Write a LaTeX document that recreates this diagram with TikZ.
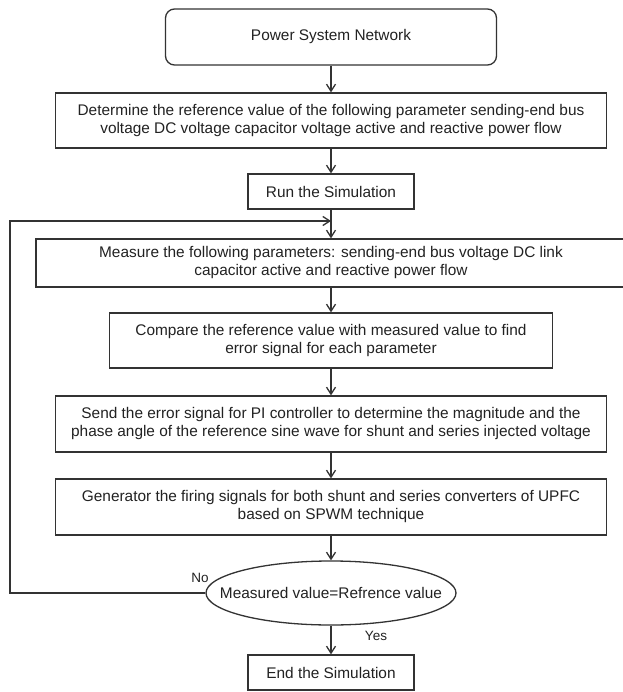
\documentclass[tikz,border=0pt]{standalone}
\usepackage{fontspec}
\setmainfont{Liberation Sans}
\usetikzlibrary{shapes.geometric, arrows.meta, positioning}
\definecolor{flowline}{HTML}{333333}
\definecolor{flowtext}{HTML}{222222}
\newcommand{\flowfont}{\fontsize{15.4}{18}\selectfont}
\newcommand{\labfont}{\fontsize{13.5}{15}\selectfont}
\tikzset{
  startbox/.style={rectangle, draw=flowline, fill=white, line width=1.3pt,
                   rounded corners=9pt, minimum width=331pt, minimum height=56pt,
                   align=center, font=\flowfont, text=flowtext, inner sep=0pt},
  stepbox/.style={rectangle, draw=flowline, fill=white, line width=1.3pt,
                  minimum height=55pt, align=center, font=\flowfont,
                  text=flowtext, inner sep=0pt},
  decision/.style={ellipse, draw=flowline, fill=white, line width=1.3pt,
                   minimum width=250pt, minimum height=64pt, inner xsep=-25pt,
                   inner ysep=0pt, font=\flowfont, text=flowtext},
  flow/.style={->, line width=1.3pt, draw=flowline,
               >={Straight Barb[length=7pt,width=9pt]}},
  answer/.style={font=\labfont, text=flowtext, inner sep=0pt},
}
\begin{document}
\begin{tikzpicture}[x=1pt, y=-1pt]
  \useasboundingbox (0,0) rectangle (622,692);

  % --- Flow steps ---
  \node[startbox] (net) at (331, 37) {Power System Network};
  \node[stepbox, minimum width=551pt, minimum height=55pt] (ref) at (331, 120.5)
    {Determine the reference value of the following parameter sending-end bus\\
     voltage DC voltage capacitor voltage active and reactive power flow};
  \node[stepbox, minimum width=166pt, minimum height=35pt] (run) at (331, 191.5)
    {Run the Simulation};
  \node[stepbox, minimum width=590pt, minimum height=48pt] (meas) at (331, 263)
    {Measure the following parameters: sending-end bus voltage DC link\\
     capacitor active and reactive power flow};
  \node[stepbox, minimum width=443pt] (comp) at (331, 340.5)
    {Compare the reference value with measured value to find\\
     error signal for each parameter};
  \node[stepbox, minimum width=551pt, minimum height=56pt] (pi) at (331, 424)
    {Send the error signal for PI controller to determine the magnitude and the\\
     phase angle of the reference sine wave for shunt and series injected voltage};
  \node[stepbox, minimum width=551pt, minimum height=56pt] (fire) at (331, 507)
    {Generator the firing signals for both shunt and series converters of UPFC\\
     based on SPWM technique};
  \node[decision] (check) at (331, 593) {Measured value=Refrence value};
  \node[stepbox, minimum width=166pt, minimum height=35pt] (stop) at (331, 672.5)
    {End the Simulation};

  % --- Connectors ---
  \draw[flow] (net) -- (ref);
  \draw[flow] (ref) -- (run);
  \draw[flow] (run) -- (meas);
  \draw[flow] (meas) -- (comp);
  \draw[flow] (comp) -- (pi);
  \draw[flow] (pi) -- (fire);
  \draw[flow] (fire) -- (check);
  \draw[flow] (check) -- (stop);

  % feedback loop (No)
  \coordinate (loop) at (10, 221);
  \draw[flow] (check.west) -| (loop) -- (loop -| run.south);

  \node[answer] (no) at (200, 578) {No};
  \node[answer] (yes) at (376, 636) {Yes};
\end{tikzpicture}
\end{document}
